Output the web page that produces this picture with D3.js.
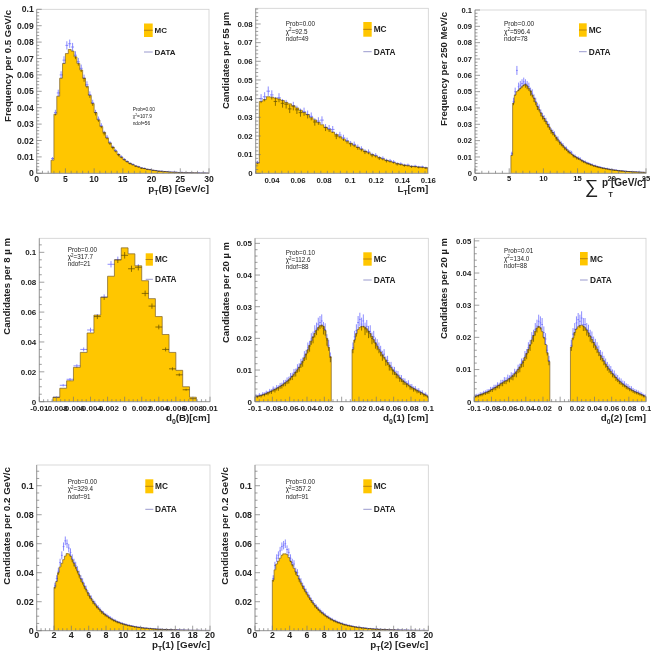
<!DOCTYPE html>
<html><head><meta charset="utf-8">
<script src="https://cdn.jsdelivr.net/npm/d3@7"></script>
<style>
body{margin:0;background:#fff}
svg{display:block}
text{font-family:"Liberation Sans",Arial,Helvetica,sans-serif}
</style>
</head><body>
<svg id="c" width="651" height="671"></svg>
<script>
// ---------- DATA (normalised frequency per bin) ----------
// Panel 1: pT(B), 0.5 GeV/c bins starting at 2.5
const ptB_start = 2.5, ptB_width = 0.5;
const ptB_mc = [0.008,0.036,0.047,0.058,0.067,0.073,0.0755,0.0745,0.071,0.067,0.063,0.058,0.053,0.0475,0.0425,0.037,0.0325,0.0285,0.025,0.0215,0.0185,0.016,0.0135,0.0115,0.0098,0.0083,0.0071,0.0061,0.0052,0.0045,0.0039,0.0033,0.0029,0.0025,0.0022,0.0019,0.0016,0.0014,0.0012,0.0011,0.0009,0.0008,0.0007,0.0006,0.0005,0.0005,0.0004,0.0004,0.0003,0.0003,0.0003,0.0002,0.0002,0.0002,0.0002];
const ptB_data = [0.009,0.037,0.049,0.060,0.069,0.078,0.079,0.077,0.072,0.068,0.064,0.058,0.054,0.048,0.043,0.037,0.033,0.029,0.0245,0.022,0.0185,0.0158,0.0138,0.0113,0.010,0.0085,0.0072,0.006,0.0054,0.0044,0.004,0.0032,0.003,0.0024,0.0023,0.0018,0.0017,0.0013,0.0013,0.001,0.001,0.0008,0.0007,0.0007,0.0005,0.0006,0.0004,0.0004,0.0004,0.0003,0.0002,0.0003,0.0002,0.0002,0.0001];

// Panel 2: L_T, bins starting at 0.0275 cm
const lt_start = 0.0275, lt_width = 0.00275;
const lt_mc = [0.0054,0.0385,0.0395,0.0410,0.0408,0.0403,0.0398,0.0390,0.0380,0.0372,0.0362,0.0350,0.0338,0.0326,0.0314,0.0298,0.0286,0.0273,0.0260,0.0247,0.0234,0.0221,0.0208,0.0196,0.0184,0.0172,0.0161,0.0150,0.0139,0.0129,0.0119,0.0110,0.0101,0.0093,0.0085,0.0077,0.0070,0.0064,0.0058,0.0053,0.0048,0.0044,0.0041,0.0038,0.0036,0.0034,0.0032,0.0030];
const lt_data = [0.0058,0.0400,0.0410,0.0440,0.0420,0.0385,0.0405,0.0375,0.0370,0.0345,0.0360,0.0340,0.0325,0.0330,0.0315,0.0305,0.0275,0.0280,0.0285,0.0245,0.0240,0.0235,0.0200,0.0205,0.0190,0.0175,0.0158,0.0155,0.0140,0.0131,0.0116,0.0115,0.0098,0.0096,0.0082,0.0080,0.0068,0.0067,0.0061,0.0050,0.0050,0.0043,0.0044,0.0036,0.0038,0.0033,0.0034,0.0029];

// Panel 3: sum pT, 250 MeV/c bins starting at 5.25
const spt_start = 5.25, spt_width = 0.25;
const spt_mc = [0.011,0.043,0.048,0.050,0.051,0.052,0.053,0.054,0.0545,0.0535,0.052,0.0505,0.048,0.046,0.0435,0.041,0.039,0.037,0.035,0.0335,0.0318,0.030,0.0282,0.0265,0.025,0.0235,0.022,0.0205,0.0192,0.018,0.0168,0.0157,0.0147,0.0137,0.0127,0.0118,0.011,0.0103,0.0097,0.0091,0.0085,0.0079,0.0073,0.0068,0.0063,0.0059,0.0055,0.0051,0.0047,0.0044,0.0041,0.0038,0.0035,0.0033,0.0031,0.0029,0.0027,0.0025,0.0023,0.0021,0.002,0.0019,0.0017,0.0016,0.0015,0.0014,0.0013,0.0012,0.0011,0.0011,0.001,0.0009,0.0009,0.0008,0.0008,0.0007,0.0007,0.0006,0.0006];
const spt_data = [0.012,0.044,0.050,0.063,0.053,0.054,0.055,0.056,0.055,0.054,0.053,0.050,0.049,0.046,0.044,0.041,0.040,0.037,0.035,0.0335,0.032,0.030,0.0285,0.026,0.025,0.024,0.0215,0.021,0.019,0.018,0.017,0.0155,0.015,0.0135,0.013,0.0125,0.0108,0.0104,0.0095,0.0092,0.0088,0.0078,0.0072,0.0069,0.0062,0.006,0.0054,0.0052,0.0046,0.0045,0.004,0.0038,0.0036,0.0032,0.0031,0.0028,0.0028,0.0024,0.0023,0.0022,0.0019,0.0019,0.0017,0.0016,0.0014,0.0015,0.0012,0.0012,0.0011,0.001,0.001,0.0009,0.0008,0.0009,0.0007,0.0007,0.0006,0.0006,0.0005];

// Panel 4: d0(B), 8 um bins starting at -0.0084 cm
const d0B_start = -0.0084, d0B_width = 0.0008;
const d0B_mc = [0.003,0.009,0.014,0.023,0.033,0.046,0.058,0.070,0.084,0.095,0.103,0.099,0.091,0.081,0.069,0.057,0.045,0.033,0.021,0.010,0.003];
const d0B_data = [0.003,0.011,0.015,0.024,0.035,0.048,0.057,0.070,0.092,0.095,0.098,0.089,0.090,0.0725,0.064,0.050,0.035,0.022,0.018,0.008,0.002];

// Panel 5: d0(1), 20 um bins; negative side from -0.1, positive side from 0.012
const d01_negStart = -0.1, d01_posStart = 0.012, d01_width = 0.002;
const d01_mcNeg = [0.0016,0.0017,0.0019,0.0020,0.0022,0.0024,0.0026,0.0029,0.0031,0.0034,0.0037,0.0039,0.0042,0.0045,0.0048,0.0052,0.0056,0.0060,0.0064,0.0069,0.0075,0.0081,0.0087,0.0094,0.0101,0.0109,0.0118,0.0128,0.0139,0.0151,0.0164,0.0178,0.0192,0.0205,0.0216,0.0226,0.0234,0.0240,0.0242,0.0238,0.0225,0.0200,0.0172,0.0142];
const d01_mcPos = [0.0165,0.0195,0.0215,0.0228,0.0235,0.0238,0.0238,0.0235,0.0230,0.0223,0.0215,0.0206,0.0196,0.0186,0.0176,0.0166,0.0157,0.0148,0.0140,0.0132,0.0124,0.0116,0.0108,0.0101,0.0094,0.0088,0.0082,0.0076,0.0071,0.0066,0.0061,0.0057,0.0053,0.0049,0.0045,0.0042,0.0039,0.0036,0.0033,0.0030,0.0027,0.0024,0.0021,0.0018];
const d01_dataNeg = [0.0018,0.0016,0.0021,0.0019,0.0024,0.0023,0.0028,0.0027,0.0033,0.0032,0.0040,0.0037,0.0044,0.0043,0.0050,0.0051,0.0058,0.0059,0.0066,0.0068,0.0079,0.0080,0.0091,0.0092,0.0105,0.0108,0.0121,0.0125,0.0144,0.0148,0.0170,0.0175,0.0198,0.0203,0.0222,0.0230,0.0245,0.0250,0.0255,0.0232,0.0228,0.0195,0.0178,0.0140];
const d01_dataPos = [0.0170,0.0205,0.0225,0.0250,0.0260,0.0245,0.0255,0.0230,0.0238,0.0220,0.0222,0.0200,0.0205,0.0185,0.0180,0.0170,0.0160,0.0145,0.0150,0.0128,0.0130,0.0112,0.0112,0.0098,0.0097,0.0086,0.0085,0.0074,0.0073,0.0064,0.0063,0.0055,0.0058,0.0047,0.0047,0.0040,0.0041,0.0034,0.0035,0.0028,0.0029,0.0022,0.0023,0.0017];

// Panel 6: d0(2)
const d02_negStart = -0.1, d02_posStart = 0.012, d02_width = 0.002;
const d02_mcNeg = [0.0016,0.0018,0.0020,0.0022,0.0024,0.0026,0.0028,0.0030,0.0033,0.0036,0.0039,0.0042,0.0045,0.0049,0.0052,0.0056,0.0059,0.0063,0.0065,0.0068,0.0072,0.0077,0.0082,0.0087,0.0093,0.0100,0.0108,0.0117,0.0127,0.0138,0.0150,0.0163,0.0177,0.0192,0.0206,0.0219,0.0229,0.0234,0.0230,0.0218,0.0200,0.0178,0.0152,0.0125];
const d02_mcPos = [0.0170,0.0198,0.0215,0.0226,0.0233,0.0237,0.0238,0.0235,0.0230,0.0223,0.0214,0.0204,0.0194,0.0184,0.0174,0.0164,0.0154,0.0144,0.0135,0.0126,0.0117,0.0109,0.0101,0.0094,0.0087,0.0081,0.0075,0.0069,0.0064,0.0059,0.0055,0.0051,0.0047,0.0043,0.0040,0.0037,0.0034,0.0031,0.0029,0.0027,0.0024,0.0022,0.0019,0.0017];
const d02_dataNeg = [0.0017,0.0019,0.0019,0.0023,0.0023,0.0027,0.0028,0.0031,0.0032,0.0038,0.0038,0.0044,0.0044,0.0051,0.0050,0.0058,0.0058,0.0066,0.0065,0.0073,0.0071,0.0080,0.0078,0.0090,0.0088,0.0102,0.0105,0.0120,0.0122,0.0142,0.0148,0.0168,0.0175,0.0198,0.0205,0.0225,0.0235,0.0250,0.0245,0.0240,0.0215,0.0195,0.0160,0.0128];
const d02_dataPos = [0.0175,0.0210,0.0225,0.0245,0.0255,0.0250,0.0260,0.0240,0.0240,0.0225,0.0220,0.0205,0.0200,0.0185,0.0178,0.0168,0.0158,0.0145,0.0140,0.0128,0.0120,0.0110,0.0103,0.0098,0.0088,0.0085,0.0076,0.0072,0.0065,0.0062,0.0056,0.0054,0.0048,0.0046,0.0041,0.0040,0.0035,0.0032,0.0030,0.0028,0.0025,0.0023,0.0019,0.0018];

// Panel 7: pT(1), 0.2 GeV/c bins from 2
const pt1_start = 2, pt1_width = 0.2;
const pt1_mc = [0.030,0.034,0.040,0.044,0.0465,0.049,0.0515,0.0532,0.0530,0.0515,0.0490,0.0465,0.0440,0.0412,0.0385,0.0357,0.0332,0.0307,0.0284,0.0262,0.0240,0.0221,0.0203,0.0186,0.0171,0.0157,0.0144,0.0132,0.0121,0.0111,0.0102,0.0094,0.0086,0.0079,0.0073,0.0067,0.0062,0.0057,0.0052,0.0048,0.0045,0.0041,0.0038,0.0035,0.0033,0.0030,0.0028,0.0026,0.0024,0.0022,0.0021,0.0019,0.0018,0.0017,0.0016,0.0015,0.0014,0.0013,0.0012,0.0011,0.0010,0.0010,0.0009,0.0009,0.0008,0.0008,0.0007,0.0007,0.0006,0.0006,0.0006,0.0005,0.0005,0.0005,0.0004,0.0004,0.0004,0.0004,0.0003,0.0003,0.0003,0.0003,0.0003,0.0003,0.0002,0.0002,0.0002,0.0002,0.0002,0.0002];
const pt1_data = [0.031,0.036,0.041,0.047,0.052,0.058,0.062,0.060,0.057,0.054,0.050,0.047,0.045,0.042,0.039,0.036,0.034,0.031,0.029,0.026,0.024,0.0225,0.020,0.019,0.017,0.016,0.0145,0.013,0.0122,0.011,0.0105,0.0095,0.0088,0.008,0.0072,0.0068,0.006,0.0058,0.0052,0.0049,0.0044,0.0042,0.0037,0.0036,0.0032,0.0031,0.0027,0.0027,0.0023,0.0023,0.002,0.002,0.0017,0.0018,0.0015,0.0016,0.0013,0.0013,0.0012,0.0011,0.001,0.001,0.0009,0.0008,0.0009,0.0007,0.0007,0.0008,0.0006,0.0006,0.0005,0.0006,0.0005,0.0004,0.0005,0.0004,0.0003,0.0004,0.0003,0.0003,0.0003,0.0002,0.0003,0.0003,0.0002,0.0002,0.0002,0.0001,0.0002,0.0002];

// Panel 8: pT(2), 0.2 GeV/c bins from 2
const pt2_start = 2, pt2_width = 0.2;
const pt2_mc = [0.035,0.042,0.046,0.048,0.050,0.052,0.053,0.053,0.0525,0.0505,0.048,0.0455,0.043,0.0405,0.038,0.0355,0.033,0.0308,0.0286,0.0265,0.0245,0.0226,0.0208,0.0191,0.0176,0.0162,0.0149,0.0137,0.0126,0.0116,0.0107,0.0098,0.009,0.0083,0.0076,0.007,0.0065,0.006,0.0055,0.0051,0.0047,0.0043,0.004,0.0037,0.0034,0.0032,0.0029,0.0027,0.0025,0.0023,0.0022,0.002,0.0019,0.0018,0.0016,0.0015,0.0014,0.0013,0.0012,0.0011,0.0011,0.001,0.0009,0.0009,0.0008,0.0008,0.0007,0.0007,0.0006,0.0006,0.0006,0.0005,0.0005,0.0005,0.0004,0.0004,0.0004,0.0004,0.0003,0.0003,0.0003,0.0003,0.0003,0.0003,0.0002,0.0002,0.0002,0.0002,0.0002,0.0002];
const pt2_data = [0.036,0.045,0.050,0.052,0.055,0.058,0.059,0.060,0.056,0.054,0.050,0.047,0.046,0.041,0.040,0.036,0.034,0.031,0.029,0.027,0.025,0.023,0.021,0.0195,0.0175,0.0165,0.015,0.0138,0.0127,0.0118,0.0108,0.0097,0.0092,0.0082,0.0078,0.0069,0.0066,0.0059,0.0056,0.005,0.0048,0.0042,0.0041,0.0036,0.0035,0.0031,0.003,0.0026,0.0026,0.0022,0.0023,0.0019,0.002,0.0017,0.0017,0.0014,0.0015,0.0012,0.0013,0.001,0.0012,0.0009,0.001,0.0008,0.0009,0.0007,0.0008,0.0006,0.0007,0.0005,0.0007,0.0004,0.0006,0.0004,0.0005,0.0003,0.0005,0.0003,0.0004,0.0002,0.0004,0.0002,0.0003,0.0002,0.0003,0.0001,0.0003,0.0002,0.0002,0.0001];

// Fit statistics text
const stats = {
  ptB: ["Prob=0.00","107.9","ndof=56"],
  lt:  ["Prob=0.00","92.5","ndof=49"],
  spt: ["Prob=0.00","596.4","ndof=78"],
  d0B: ["Prob=0.00","317.7","ndof=21"],
  d01: ["Prob=0.10","112.6","ndof=88"],
  d02: ["Prob=0.01","134.0","ndof=88"],
  pt1: ["Prob=0.00","329.4","ndof=91"],
  pt2: ["Prob=0.00","357.2","ndof=91"]
};

// ---------- DRAWING ----------
const FILL = "#ffc600", EDGE = "#7a5f2a", DATA_COL = "#6f6fff";
const svg = d3.select("#c");

function fmt(v){ return String(+v.toFixed(4)); }

function panel(p){
  const x = d3.scaleLinear().domain(p.xd).range([p.px0, p.px1]);
  const y = d3.scaleLinear().domain([0, p.ymax]).range([p.py0, p.pyTop]);
  const g = svg.append("g");

  // histograms
  p.segs.forEach(s => {
    const n = s.mc.length, end = s.start + n*s.w;
    const pts = [[s.start,0]].concat(s.mc.map((v,i)=>[s.start+i*s.w, v]), [[end, s.mc[n-1]],[end,0]]);
    const area = d3.area().x(d=>x(d[0])).y0(y(0)).y1(d=>y(d[1])).curve(d3.curveStepAfter);
    const line = d3.line().x(d=>x(d[0])).y(d=>y(d[1])).curve(d3.curveStepAfter);
    g.append("path").attr("d", area(pts)).attr("fill", FILL);
    g.append("path").attr("d", line(pts)).attr("fill","none").attr("stroke",EDGE).attr("stroke-width",0.7);
  });
  // data points with error bars
  let dpath = "";
  p.segs.forEach(s => {
    s.data.forEach((v,i)=>{
      if(!(v>0)) return;
      const e = p.errK*Math.sqrt(v);
      const xl = x(s.start+i*s.w), xr = x(s.start+(i+1)*s.w), xc = (xl+xr)/2;
      dpath += `M${xc},${y(Math.max(0,v-e))}V${y(v+e)}M${xl},${y(v)}H${xr}`;
    });
  });
  g.append("path").attr("d", dpath).attr("fill","none").attr("stroke",DATA_COL)
    .attr("stroke-width",0.8).style("mix-blend-mode","multiply");

  // frame
  g.append("rect").attr("x",p.px0).attr("y",p.pyTop).attr("width",p.px1-p.px0).attr("height",p.py0-p.pyTop)
    .attr("fill","none").attr("stroke","#cfcfcf").attr("stroke-width",0.8);
  g.append("line").attr("x1",p.px0).attr("x2",p.px0).attr("y1",p.py0).attr("y2",p.pyTop).attr("stroke","#8a8a8a").attr("stroke-width",0.8);
  g.append("line").attr("x1",p.px0).attr("x2",p.px1).attr("y1",p.py0).attr("y2",p.py0).attr("stroke","#8a8a8a").attr("stroke-width",0.8);

  // ticks
  const eps = 1e-9;
  let tp = "";
  d3.range(0, p.ymax+eps, p.yMinor).forEach(v=>{ const isMaj = Math.abs(v/p.yStep - Math.round(v/p.yStep))<1e-6; tp += `M${p.px0},${y(v)}h${isMaj?5:2.5}`; });
  d3.range(p.xd[0], p.xd[1]+eps, p.xMinor).forEach(v=>{ const isMaj = Math.abs(v/p.xStep - Math.round(v/p.xStep))<1e-6; tp += `M${x(v)},${p.py0}v${isMaj?-5:-2.5}`; });
  g.append("path").attr("d",tp).attr("stroke","#777").attr("stroke-width",0.7).attr("fill","none");

  // tick labels
  const yT = d3.range(0, p.ymax+eps, p.yStep);
  g.selectAll(null).data(yT).enter().append("text")
    .attr("x", p.px0-3).attr("y", d=>y(d)+p.tf*0.36).attr("text-anchor","end")
    .attr("font-size", p.tf).attr("font-weight","bold").attr("fill","#222").text(d=>fmt(d));
  const xT = d3.range(p.xTick0, p.xd[1]+eps, p.xStep);
  g.selectAll(null).data(xT).enter().append("text")
    .attr("x", d=>x(d)).attr("y", p.xlabY).attr("text-anchor","middle")
    .attr("font-size", p.tf).attr("font-weight","bold").attr("fill","#222").text(d=>fmt(d));

  // y title
  g.append("text").attr("transform",`translate(${p.ytx},${p.yty}) rotate(-90)`)
    .attr("text-anchor","end").attr("font-size",p.ytf).attr("font-weight","bold").attr("fill","#222").text(p.ytitle);

  // x title
  if(p.xtitle){
    const t = g.append("text").attr("x",p.px1).attr("y",p.xty).attr("text-anchor","end")
      .attr("font-size",p.xtf).attr("font-weight","bold").attr("fill","#222");
    t.append("tspan").text(p.xtitle[0]);
    t.append("tspan").attr("dy",3).attr("font-size",p.xtf*0.7).text(p.xtitle[1]);
    t.append("tspan").attr("dy",-3).text(p.xtitle[2]);
  }

  // stats
  const st = p.stats;
  [0,1,2].forEach(k=>{
    const t = g.append("text").attr("x",st.x).attr("y",st.y+k*st.dy).attr("font-size",st.fs).attr("fill","#222");
    if(k===1){ t.append("tspan").text("χ"); t.append("tspan").attr("dy",-st.fs*0.35).attr("font-size",st.fs*0.7).text("2");
      t.append("tspan").attr("dy",st.fs*0.35).text("="+st.lines[1]); }
    else t.text(st.lines[k]);
  });

  // legend
  const L = p.leg;
  g.append("rect").attr("x",L.x).attr("y",L.y).attr("width",L.w).attr("height",L.h).attr("fill",FILL);
  g.append("line").attr("x1",L.x).attr("x2",L.x+L.w).attr("y1",L.y+L.h/2).attr("y2",L.y+L.h/2).attr("stroke","#b07a10").attr("stroke-width",0.9);
  g.append("text").attr("x",L.tx).attr("y",L.y+L.h/2+L.fs*0.36).attr("font-size",L.fs).attr("font-weight","bold").attr("fill","#222").text("MC");
  g.append("line").attr("x1",L.x).attr("x2",L.x+L.w).attr("y1",L.dy).attr("y2",L.dy).attr("stroke","#8f8fc8").attr("stroke-width",0.9);
  g.append("text").attr("x",L.tx).attr("y",L.dy+L.fs*0.36).attr("font-size",L.fs).attr("font-weight","bold").attr("fill","#222").text("DATA");
  return {x,y,g};
}

// Panel 1
panel({xd:[0,30], px0:36.7, px1:209, py0:173.3, pyTop:9.3, ymax:0.1,
  yStep:0.01, yMinor:0.002, xStep:5, xMinor:1, xTick0:0, tf:8.6, xlabY:181.5,
  segs:[{start:ptB_start,w:ptB_width,mc:ptB_mc,data:ptB_data}], errK:0.009,
  ytitle:"Frequency per 0.5 GeV/c", ytx:10.5, yty:10, ytf:9.6,
  xtitle:["p","T","(B) [GeV/c]"], xty:191.5, xtf:9.8,
  stats:{x:132.7,y:110.7,dy:7.3,fs:4.8,lines:stats.ptB},
  leg:{x:144,y:23.5,w:8.7,h:13.5,tx:154.5,dy:52,fs:8}});

// Panel 2
panel({xd:[lt_start,0.16], px0:255.7, px1:428.3, py0:173.3, pyTop:8.3, ymax:0.0884,
  yStep:0.01, yMinor:0.002, xStep:0.02, xMinor:0.005, xTick0:0.04, tf:7.8, xlabY:183,
  segs:[{start:lt_start,w:lt_width,mc:lt_mc,data:lt_data}], errK:0.012,
  ytitle:"Candidates per 55 µm", ytx:229.4, yty:12, ytf:9.4,
  xtitle:["L","T","[cm]"], xty:191.5, xtf:9.8,
  stats:{x:285.7,y:26.2,dy:7.3,fs:6.3,lines:stats.lt},
  leg:{x:363.3,y:22,w:8.4,h:14.7,tx:373.7,dy:51.7,fs:8.3}});

// Panel 3
const p3 = panel({xd:[0,25], px0:475, px1:646, py0:173.3, pyTop:10, ymax:0.1,
  yStep:0.01, yMinor:0.002, xStep:5, xMinor:1, xTick0:0, tf:7.6, xlabY:181,
  segs:[{start:spt_start,w:spt_width,mc:spt_mc,data:spt_data}], errK:0.011,
  ytitle:"Frequency per 250 MeV/c", ytx:447.4, yty:12, ytf:9.5,
  xtitle:null,
  stats:{x:504,y:26.2,dy:7.5,fs:6.5,lines:stats.spt},
  leg:{x:579,y:23.3,w:7.7,h:13.4,tx:588.7,dy:51.7,fs:8.3}});
p3.g.append("text").attr("x",585).attr("y",193).attr("font-size",19).attr("fill","#222").text("∑");
p3.g.append("text").attr("x",602).attr("y",186).attr("font-size",10).attr("font-weight","bold").attr("fill","#222").text("p");
p3.g.append("text").attr("x",608.5).attr("y",196.5).attr("font-size",7).attr("font-weight","bold").attr("fill","#222").text("T");
p3.g.append("text").attr("x",646).attr("y",186).attr("text-anchor","end").attr("font-size",10).attr("font-weight","bold").attr("fill","#222").text("[GeV/c]");

// Panel 4
panel({xd:[-0.01,0.01], px0:39.3, px1:210, py0:401.7, pyTop:238.3, ymax:0.1094,
  yStep:0.02, yMinor:0.005, xStep:0.002, xMinor:0.0005, xTick0:-0.01, tf:8, xlabY:410.5,
  segs:[{start:d0B_start,w:d0B_width,mc:d0B_mc,data:d0B_data}], errK:0.007,
  ytitle:"Candidates per 8 µ m", ytx:10.4, yty:238, ytf:9.6,
  xtitle:["d","0","(B)[cm]"], xty:421, xtf:9.8,
  stats:{x:67.7,y:251.5,dy:7.3,fs:6.3,lines:stats.d0B},
  leg:{x:145.7,y:253.3,w:7.2,h:12.4,tx:155,dy:279.3,fs:8.2}});

// Panel 5
panel({xd:[-0.1,0.1], px0:255, px1:428.3, py0:401.7, pyTop:238.3, ymax:0.0516,
  yStep:0.01, yMinor:0.002, xStep:0.02, xMinor:0.005, xTick0:-0.1, tf:8, xlabY:410.5,
  segs:[{start:d01_negStart,w:d01_width,mc:d01_mcNeg,data:d01_dataNeg},
        {start:d01_posStart,w:d01_width,mc:d01_mcPos,data:d01_dataPos}], errK:0.013,
  ytitle:"Candidates per 20 µ m", ytx:229, yty:242, ytf:9.5,
  xtitle:["d","0","(1) [cm]"], xty:421, xtf:9.8,
  stats:{x:285.7,y:254.5,dy:7.3,fs:6.3,lines:stats.d01},
  leg:{x:363.3,y:252.3,w:8.4,h:13.4,tx:373.7,dy:280,fs:8.3}});

// Panel 6
panel({xd:[-0.1,0.1], px0:474.3, px1:646, py0:401.7, pyTop:238.3, ymax:0.0508,
  yStep:0.01, yMinor:0.002, xStep:0.02, xMinor:0.005, xTick0:-0.1, tf:7.8, xlabY:410.5,
  segs:[{start:d02_negStart,w:d02_width,mc:d02_mcNeg,data:d02_dataNeg},
        {start:d02_posStart,w:d02_width,mc:d02_mcPos,data:d02_dataPos}], errK:0.013,
  ytitle:"Candidates per 20 µ m", ytx:447.4, yty:238, ytf:9.5,
  xtitle:["d","0","(2) [cm]"], xty:421, xtf:9.8,
  stats:{x:504,y:253.2,dy:7.5,fs:6.3,lines:stats.d02},
  leg:{x:580,y:252,w:7.7,h:13.4,tx:590,dy:280,fs:8.3}});

// Panel 7
panel({xd:[0,20], px0:36.7, px1:210, py0:630.7, pyTop:465, ymax:0.1143,
  yStep:0.02, yMinor:0.005, xStep:2, xMinor:0.5, xTick0:0, tf:9, xlabY:638,
  segs:[{start:pt1_start,w:pt1_width,mc:pt1_mc,data:pt1_data}], errK:0.012,
  ytitle:"Candidates per 0.2 GeV/c", ytx:10.4, yty:467, ytf:9.8,
  xtitle:["p","T","(1) [Gev/c]"], xty:648, xtf:9.8,
  stats:{x:67.7,y:483.9,dy:7.5,fs:6.3,lines:stats.pt1},
  leg:{x:145.3,y:479.3,w:8,h:14,tx:155,dy:509.3,fs:8.3}});

// Panel 8
panel({xd:[0,20], px0:255, px1:428.3, py0:630.7, pyTop:465, ymax:0.1143,
  yStep:0.02, yMinor:0.005, xStep:2, xMinor:0.5, xTick0:0, tf:8.8, xlabY:638,
  segs:[{start:pt2_start,w:pt2_width,mc:pt2_mc,data:pt2_data}], errK:0.012,
  ytitle:"Candidates per 0.2 GeV/c", ytx:228.4, yty:467, ytf:9.8,
  xtitle:["p","T","(2) [Gev/c]"], xty:648, xtf:9.8,
  stats:{x:285.7,y:483.9,dy:7.5,fs:6.3,lines:stats.pt2},
  leg:{x:363.3,y:479.3,w:8.4,h:14,tx:373.7,dy:509.3,fs:8.3}});
</script>
</body></html>
